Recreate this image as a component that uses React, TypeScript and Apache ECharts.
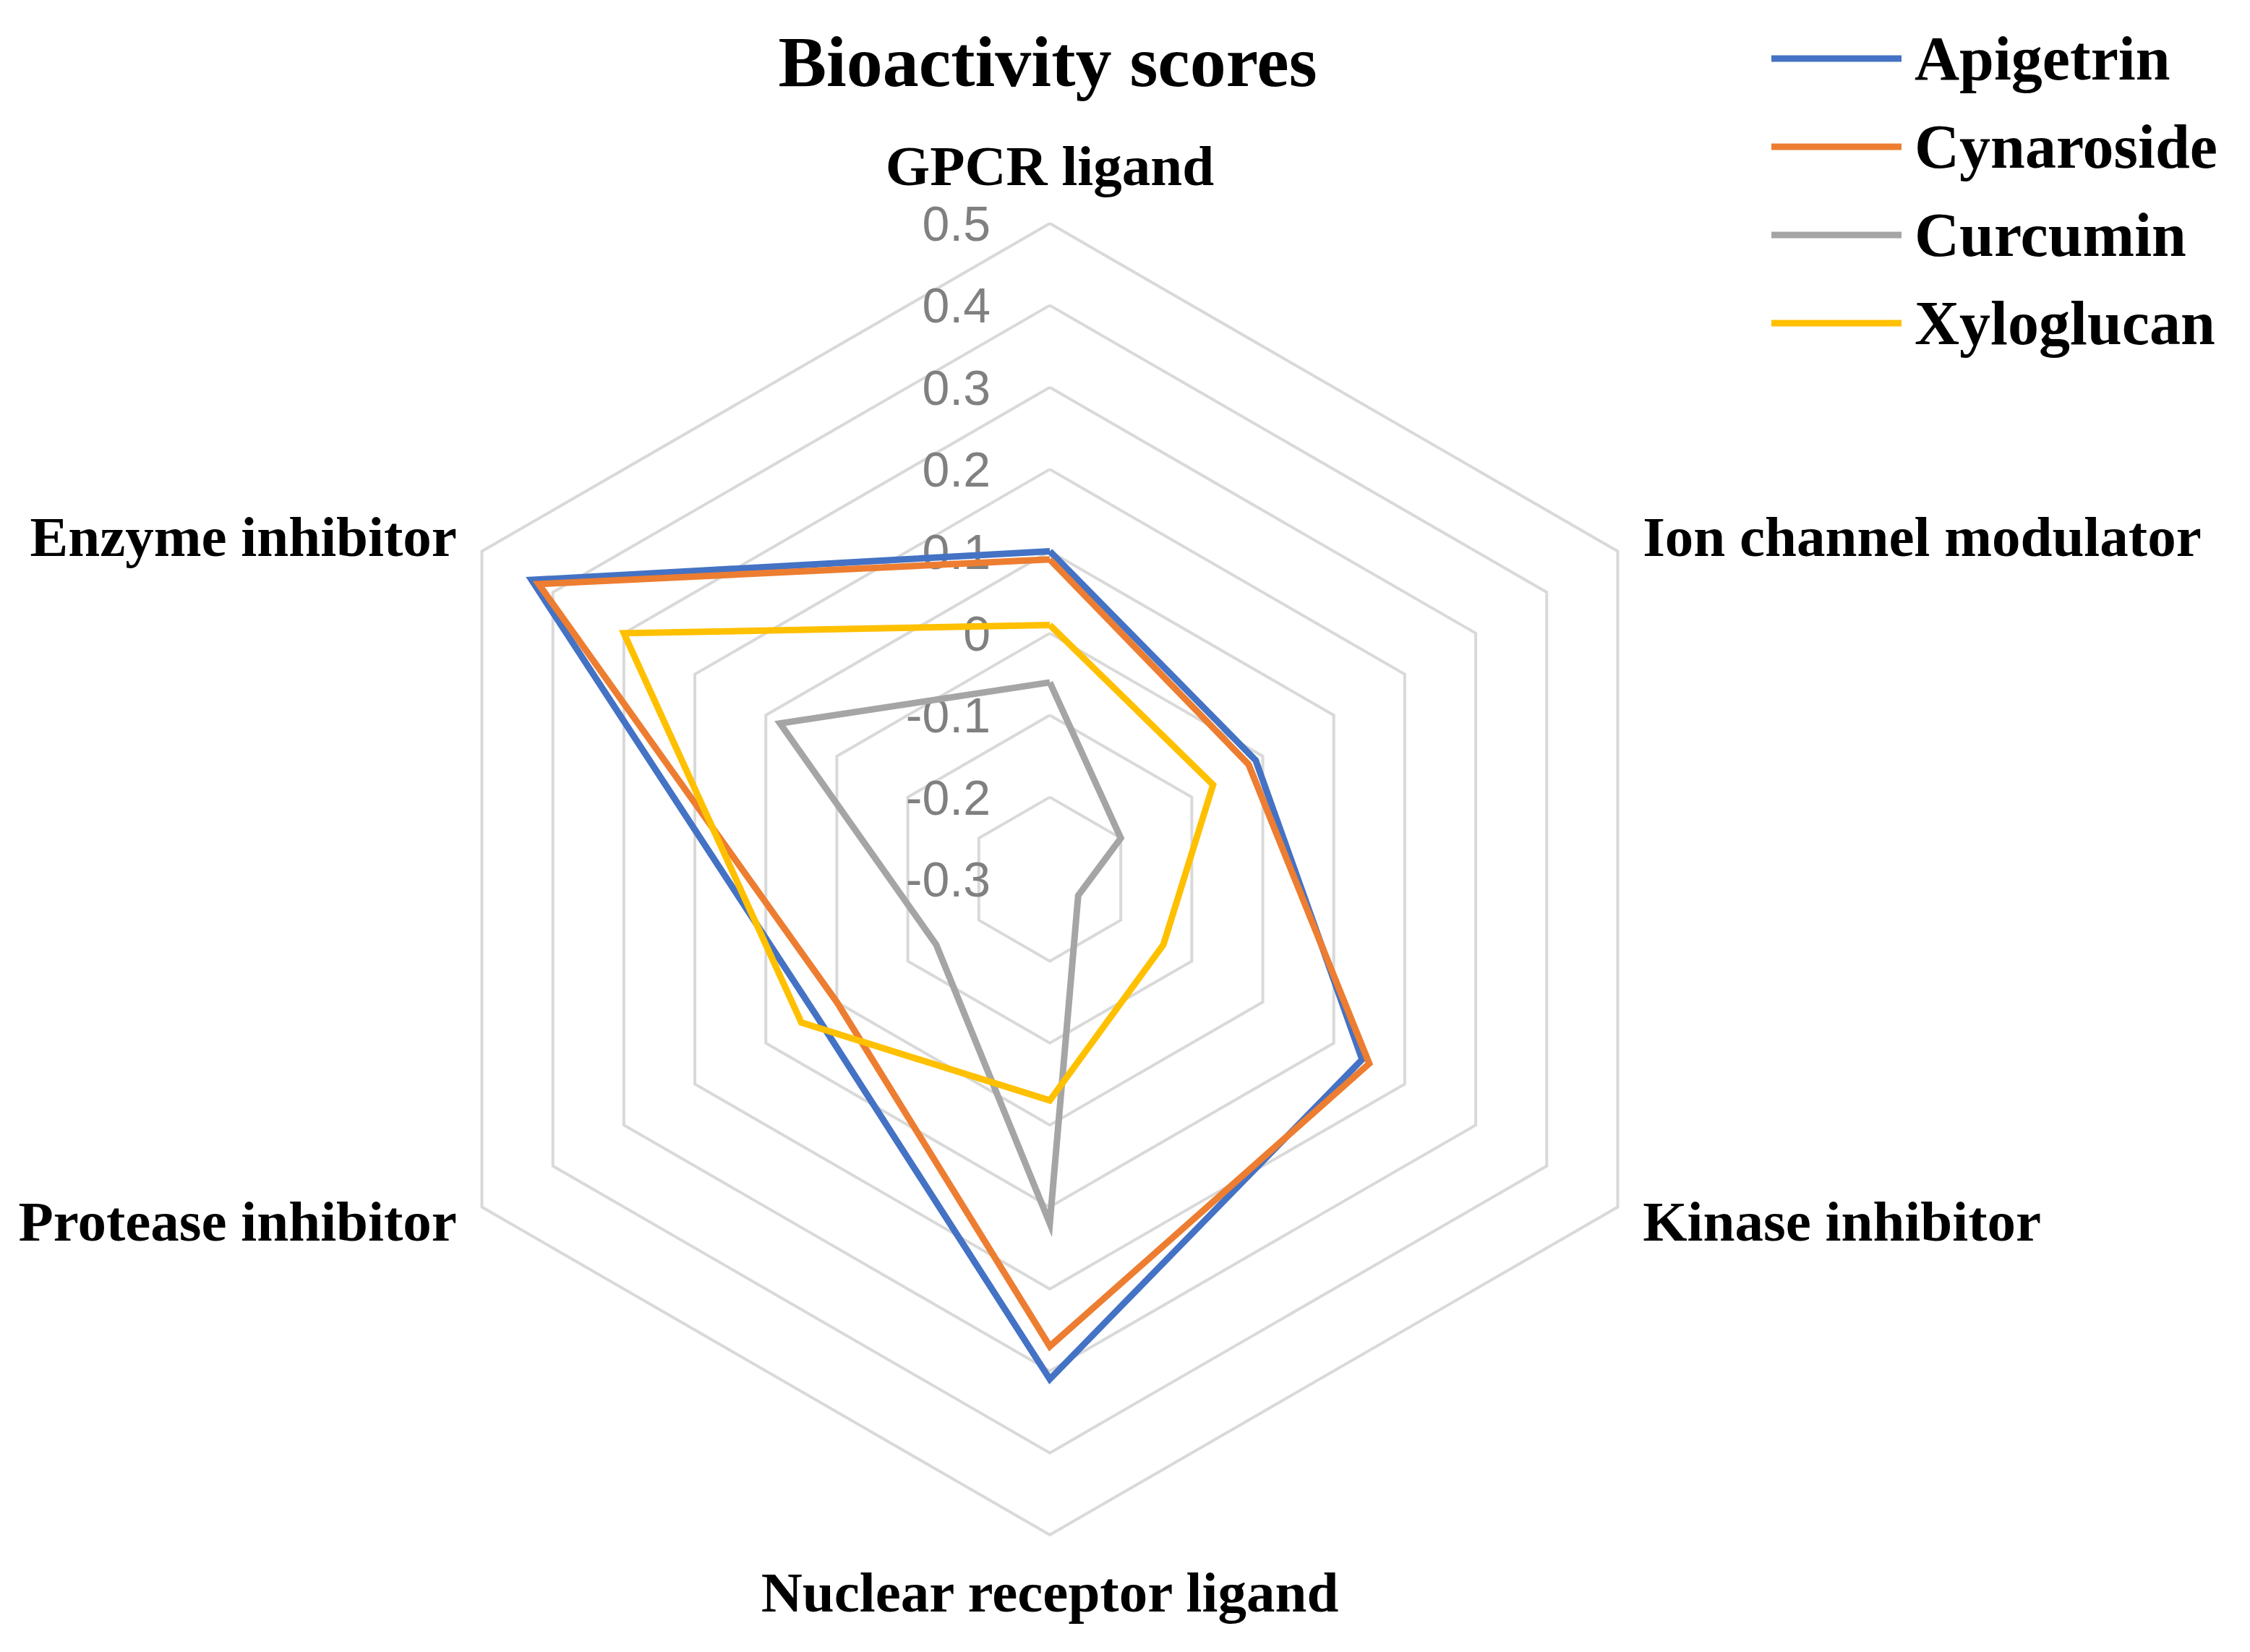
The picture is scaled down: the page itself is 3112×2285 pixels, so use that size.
import React, { useEffect, useRef } from "react";
import * as echarts from "echarts";

// Axes in the reference's clockwise order, starting at the top
const categories = [
  "GPCR ligand",
  "Ion channel modulator",
  "Kinase inhibitor",
  "Nuclear receptor ligand",
  "Protease inhibitor",
  "Enzyme inhibitor",
];

const seriesNames = ["Apigetrin", "Cynaroside", "Curcumin", "Xyloglucan"];
const apigetrin = [0.1, -0.01, 0.14, 0.31, 0.03, 0.43];
const cynaroside = [0.09, -0.02, 0.15, 0.27, 0.0, 0.42];
const curcumin = [-0.06, -0.2, -0.26, 0.12, -0.14, 0.08];
const xyloglucan = [0.01, -0.07, -0.14, -0.03, 0.05, 0.3];
const seriesValues = [apigetrin, cynaroside, curcumin, xyloglucan];
const seriesColors = ["#4472C4", "#ED7D31", "#A5A5A5", "#FFC000"];

const axisMin = -0.3;
const axisMax = 0.5;
const axisSplits = 8;

const SERIF = "'Times New Roman', 'Liberation Serif', serif";
const SANS = "'Liberation Sans', Arial, sans-serif";

// ECharts lays radar indicators counter-clockwise; reverse the clockwise order after the first
const order = [0, 5, 4, 3, 2, 1];

export default function App() {
  const ref = useRef<HTMLDivElement>(null);

  useEffect(() => {
    if (!ref.current) return;
    const chart = echarts.init(ref.current, undefined, { renderer: "svg" });

    const indicator = order.map((i, k) => {
      const ind: any = { name: categories[i], min: axisMin, max: axisMax };
      if (k === 0) {
        ind.axisLabel = {
          show: true,
          color: "#808080",
          fontSize: 68,
          fontFamily: SANS,
          margin: 82,
          formatter: (v: number) => String(Math.round(v * 10) / 10),
        };
      }
      return ind;
    });

    const option: any = {
      animation: false,
      backgroundColor: "#ffffff",
      title: {
        text: "Bioactivity scores",
        left: 1444,
        top: 30,
        textAlign: "center",
        textStyle: {
          fontFamily: SERIF,
          fontSize: 100,
          fontWeight: "bold",
          color: "#000000",
        },
      },
      legend: {
        orient: "vertical",
        left: 2450,
        top: 38,
        padding: 0,
        itemGap: 36,
        itemWidth: 180,
        itemHeight: 9,
        icon: "rect",
        data: seriesNames,
        textStyle: {
          fontFamily: SERIF,
          fontSize: 86,
          fontWeight: "bold",
          color: "#000000",
          lineHeight: 86,
          padding: [0, 0, 0, 13],
        },
      },
      radar: {
        center: [1452, 1216],
        radius: 907,
        startAngle: 90,
        shape: "polygon",
        splitNumber: axisSplits,
        nameGap: 40,
        axisName: {
          color: "#000000",
          fontFamily: SERIF,
          fontSize: 79,
          fontWeight: "bold",
        },
        axisLine: { show: false },
        axisTick: { show: false },
        axisLabel: { show: false },
        splitArea: { show: false },
        splitLine: {
          lineStyle: { color: "#d9d9d9", width: 4, join: "miter" },
        },
        indicator,
      },
      series: seriesNames.map((name, s) => ({
        type: "radar",
        name,
        symbol: "none",
        lineStyle: {
          width: 9,
          color: seriesColors[s],
          join: "miter",
          miterLimit: 20,
        },
        itemStyle: { color: seriesColors[s] },
        data: [
          {
            name,
            value: order.map((i) => seriesValues[s][i]),
          },
        ],
      })),
    };

    chart.setOption(option);
    return () => {
      chart.dispose();
    };
  }, []);

  return (
    <div
      ref={ref}
      style={{
        position: "fixed",
        left: 0,
        top: 0,
        width: 3112,
        height: 2285,
        background: "#fff",
      }}
    />
  );
}
